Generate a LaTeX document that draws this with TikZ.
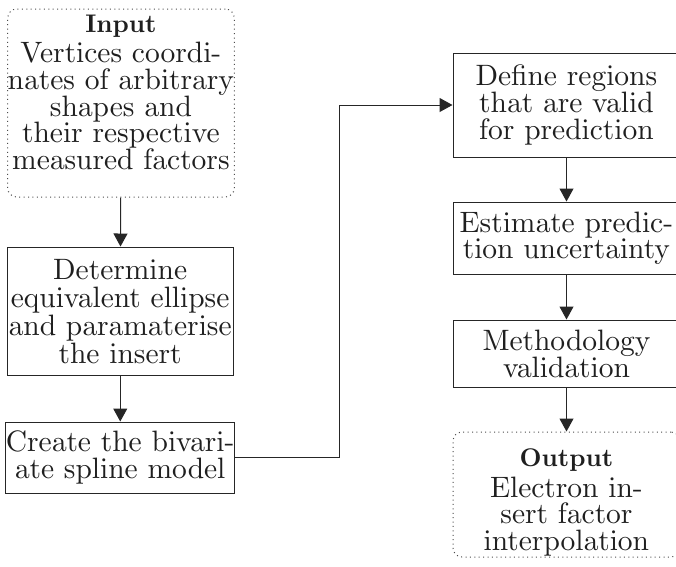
\documentclass[tikz,border=0pt]{standalone}
\usetikzlibrary{arrows.meta}
\font\bodyfnt=cmr10 at 29.5pt
\font\titlefnt=cmbx10 at 25.5pt
\tikzset{
  x=1pt, y=-1pt,
  boxstyle/.style={draw=black!85, rectangle, line width=1pt, inner sep=0pt, align=center,
    font=\fontsize{29.5pt}{26.7pt}\selectfont\bodyfnt, text=black!88},
  wideskip/.style={font=\fontsize{29.5pt}{28pt}\selectfont\bodyfnt},
  ioboxstyle/.style={boxstyle, rounded corners=9pt, line width=1pt, dash pattern=on 1pt off 3.4pt, draw=black!70},
  flowarrow/.style={line width=1pt, draw=black!85, -{Triangle[width=14pt,length=13pt]}},
}
\newcommand{\ttl}[1]{{\titlefnt #1}}
\begin{document}
\begin{tikzpicture}
\useasboundingbox (0,0) rectangle (676,566);
\fill[white] (0,0) rectangle (676,566);
\node[ioboxstyle, minimum width=223pt, minimum height=188pt] (input) at (121,103)
  {\ttl{Input}\\[4pt]Vertices coordi-\\nates of arbitrary\\shapes and\\their respective\\measured factors\\[-5pt]\mbox{}};
\node[boxstyle, wideskip, minimum width=225.5pt, minimum height=128pt] (determine) at (120.25,311)
  {Determine\\equivalent ellipse\\and paramaterise\\the insert};
\node[boxstyle, minimum width=225.5pt, minimum height=71pt] (create) at (120.25,457.5)
  {Create the bivari-\\ate spline model};
\node[boxstyle, minimum width=227pt, minimum height=104pt] (define) at (566.5,105)
  {Define regions\\that are valid\\for prediction};
\node[boxstyle, minimum width=227pt, minimum height=72pt] (estimate) at (566.5,238)
  {Estimate predic-\\tion uncertainty};
\node[boxstyle, minimum width=227pt, minimum height=67pt] (method) at (566.5,353.5)
  {Methodology\\validation};
\node[ioboxstyle, minimum width=227pt, minimum height=125pt] (output) at (566.5,494.5)
  {\mbox{}\\[7pt]\ttl{Output}\\[4pt]Electron in-\\sert factor\\interpolation};
\coordinate (bendA) at (339,457.5);
\coordinate (bendB) at (339,105);
\draw[flowarrow] (input) -- (determine);
\draw[flowarrow] (determine) -- (create);
\draw[flowarrow] (create.east) -- (bendA) -- (bendB) -- (define.west);
\draw[flowarrow] (define) -- (estimate);
\draw[flowarrow] (estimate) -- (method);
\draw[flowarrow] (method) -- (output);
\end{tikzpicture}
\end{document}
